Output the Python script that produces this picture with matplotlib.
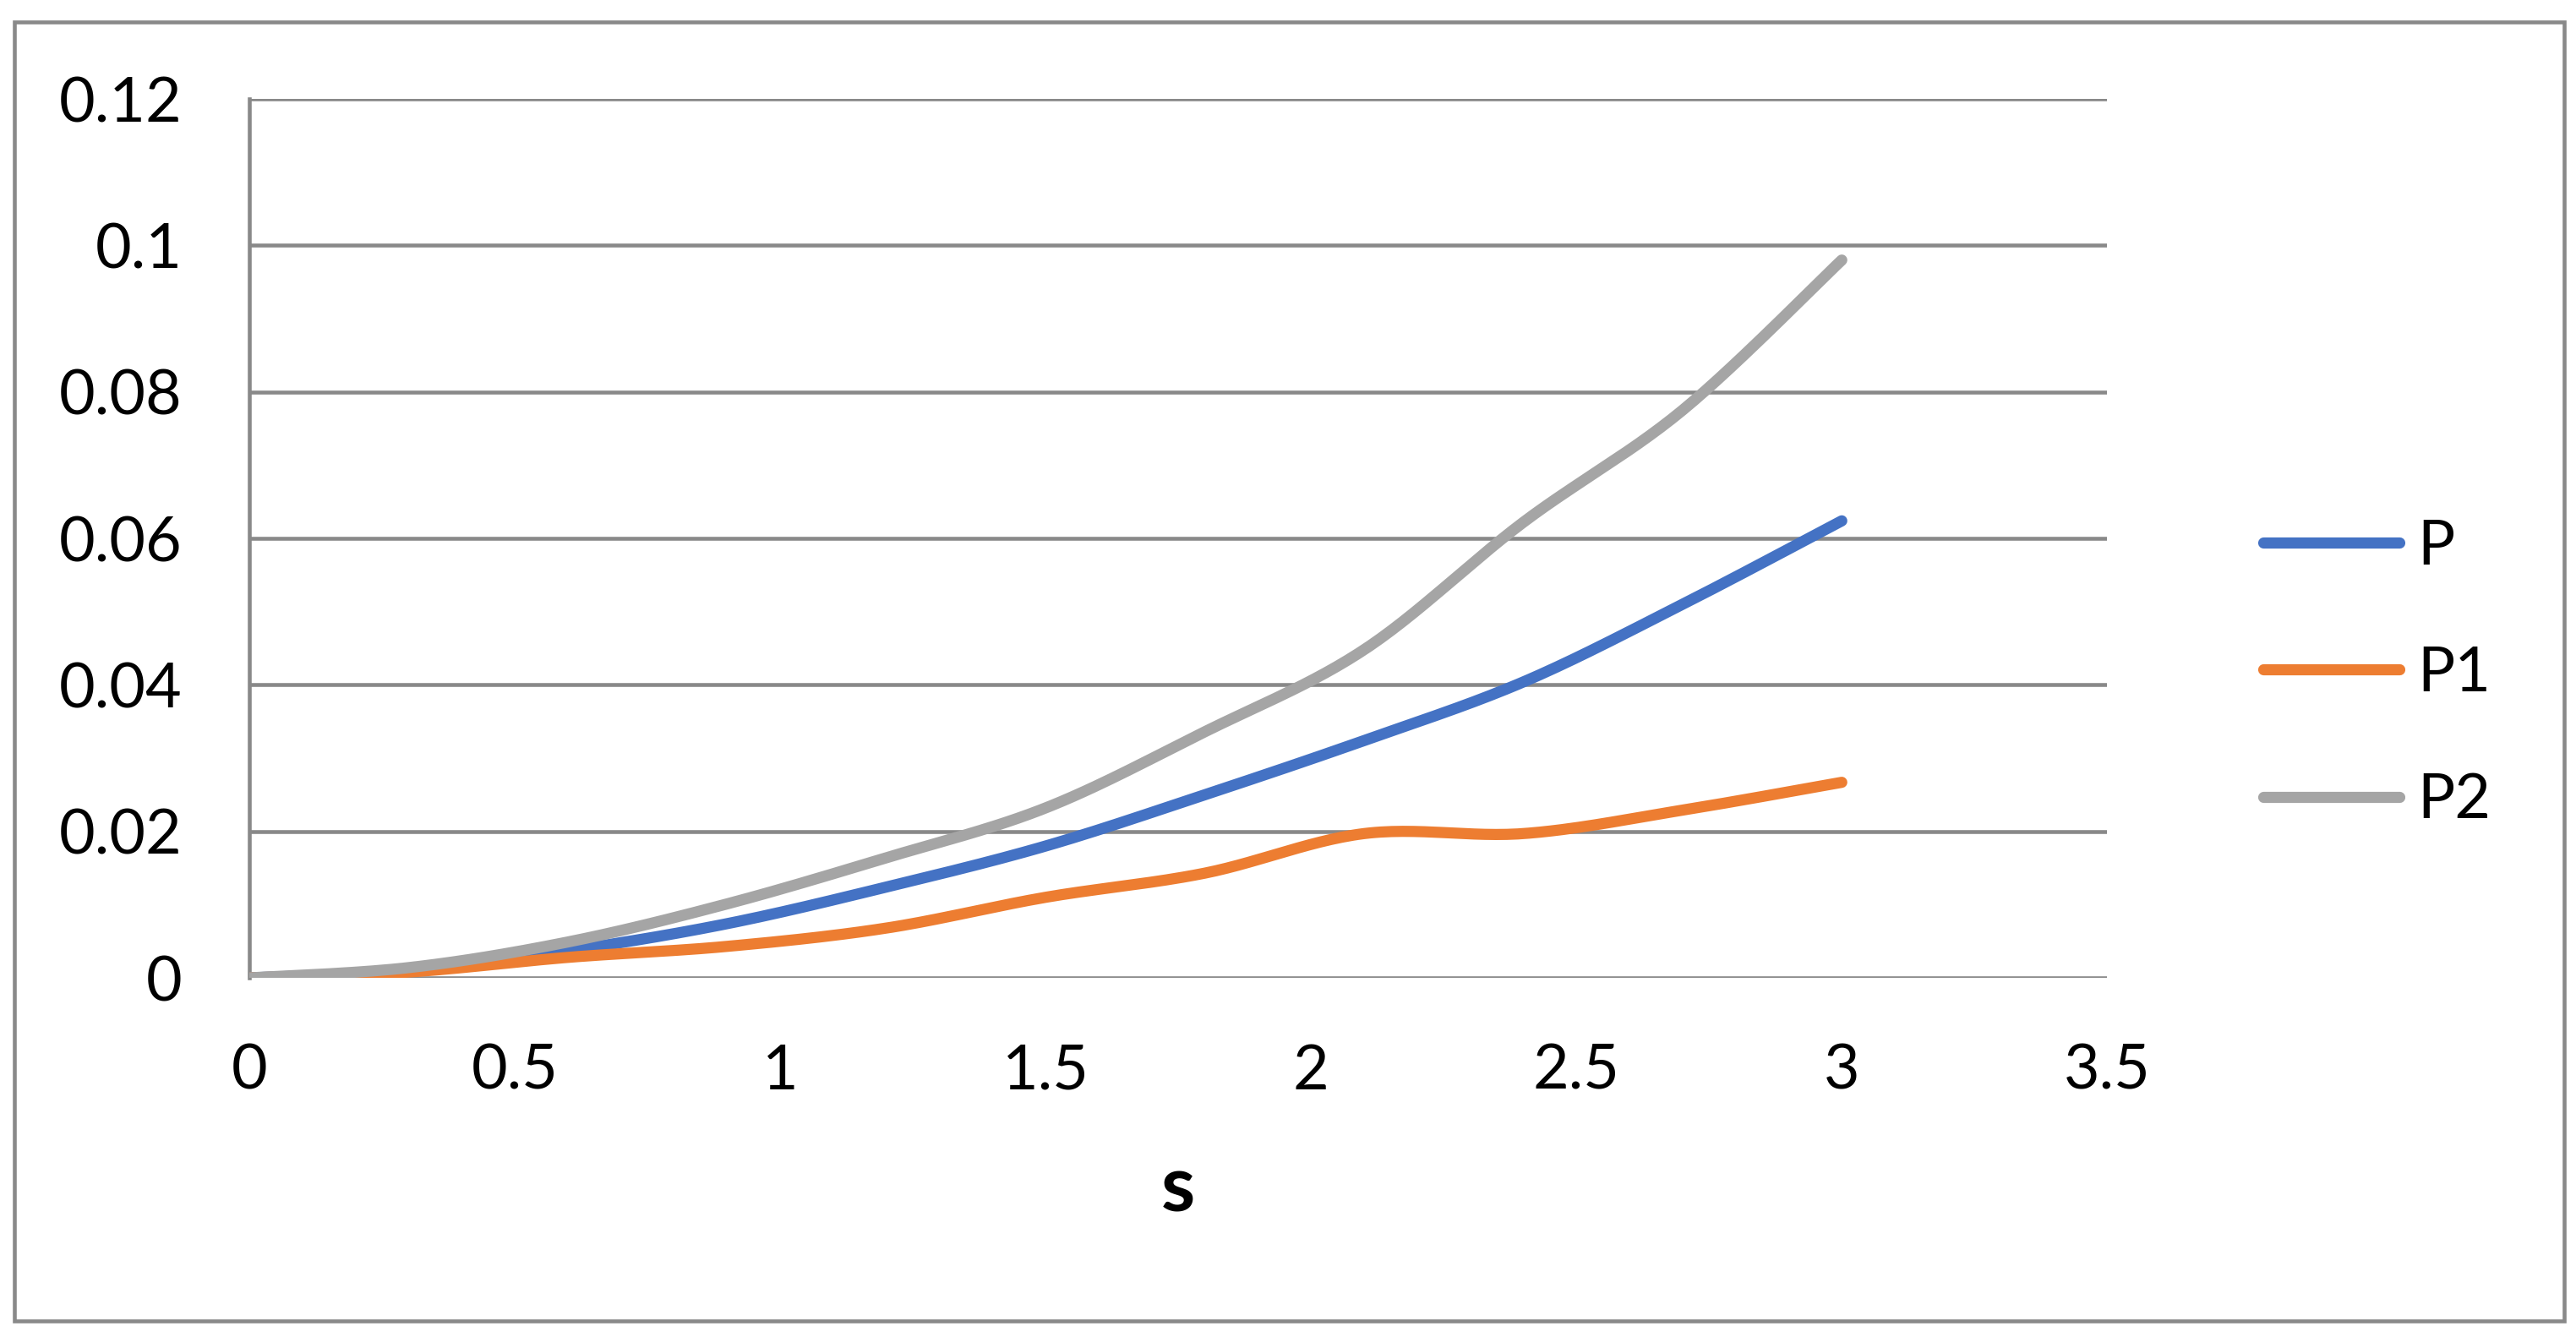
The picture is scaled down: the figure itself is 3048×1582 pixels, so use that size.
import numpy as np
import matplotlib.pyplot as plt
from matplotlib.patches import Rectangle

plt.rcParams['font.family'] = ['Lato', 'DejaVu Sans']

s = [0, 0.3, 0.6, 0.9, 1.2, 1.5, 1.8, 2.1, 2.4, 2.7, 3.0]
P = [0, 0.0010, 0.0037, 0.0074, 0.0124, 0.0180, 0.0250, 0.0324, 0.0404, 0.0510, 0.0624]
P1 = [0, 0.0008, 0.0028, 0.0043, 0.0068, 0.0110, 0.0143, 0.0197, 0.0197, 0.0229, 0.0267]
P2 = [0, 0.0014, 0.0049, 0.0101, 0.0164, 0.0232, 0.0336, 0.0448, 0.0622, 0.0775, 0.0980]
names = ['P', 'P1', 'P2']
colors = ['#4472C4', '#ED7D31', '#A5A5A5']

xticks = [0, 0.5, 1, 1.5, 2, 2.5, 3, 3.5]
xlabels = ['0', '0.5', '1', '1.5', '2', '2.5', '3', '3.5']
yticks = [0, 0.02, 0.04, 0.06, 0.08, 0.1, 0.12]
ylabels = ['0', '0.02', '0.04', '0.06', '0.08', '0.1', '0.12']


def smooth(x, y, n=30):
    # excel style smoothed line: bezier through points, control = neighbour slope / 6
    x = np.asarray(x, float)
    y = np.asarray(y, float)
    px = np.concatenate([[x[0]], x, [x[-1]]])
    py = np.concatenate([[y[0]], y, [y[-1]]])
    t = np.linspace(0, 1, n)[:, None]
    xs, ys = [], []
    for i in range(len(x) - 1):
        j = i + 1
        p0 = np.array([px[j], py[j]])
        p3 = np.array([px[j + 1], py[j + 1]])
        p1 = p0 + (p3 - np.array([px[j - 1], py[j - 1]])) / 6
        p2 = p3 - (np.array([px[j + 2], py[j + 2]]) - p0) / 6
        pts = ((1 - t) ** 3) * p0 + 3 * ((1 - t) ** 2) * t * p1 + 3 * (1 - t) * t ** 2 * p2 + t ** 3 * p3
        xs.append(pts[:, 0])
        ys.append(pts[:, 1])
    return np.concatenate(xs), np.concatenate(ys)


fig = plt.figure(figsize=(30.48, 15.82), dpi=100)
ax = fig.add_axes([0.0968, 0.2686, 0.818 - 0.0968, 0.926 - 0.2686])

for vals, name, c in zip([P, P1, P2], names, colors):
    sx, sy = smooth(s, vals)
    ax.plot(sx, sy, color=c, lw=9.5, solid_capstyle='round', label=name, zorder=3)

ax.set_xlim(0, 3.5)
ax.set_ylim(0, 0.12)
ax.set_xticks(xticks)
ax.set_xticklabels(xlabels)
ax.set_yticks(yticks)
ax.set_yticklabels(ylabels)
ax.tick_params(axis='both', length=0, labelsize=53)
ax.tick_params(axis='x', pad=56)
ax.tick_params(axis='y', pad=57)
ax.grid(axis='y', color='#898989', lw=3.3)
ax.set_axisbelow(True)
for side in ['top', 'right', 'bottom']:
    ax.spines[side].set_visible(False)
ax.spines['left'].set_color('#898989')
ax.spines['left'].set_linewidth(3.3)
ax.set_xlabel('s', fontsize=66, fontweight='bold')
ax.xaxis.label.set_va('center')
ax.xaxis.set_label_coords(0.5, -0.241)

leg = ax.legend(loc='center left', bbox_to_anchor=(1.054, 0.3456), frameon=False,
                fontsize=53, handlelength=2.19, labelspacing=1.13, handletextpad=0.28)

fig.patches.append(Rectangle((17 / 3048, 1 - 1563 / 1582), (3034 - 17) / 3048, (1563 - 26) / 1582,
                             transform=fig.transFigure, fill=False, ec='#898989', lw=3.3))

fig.savefig('out.png', dpi=100)
